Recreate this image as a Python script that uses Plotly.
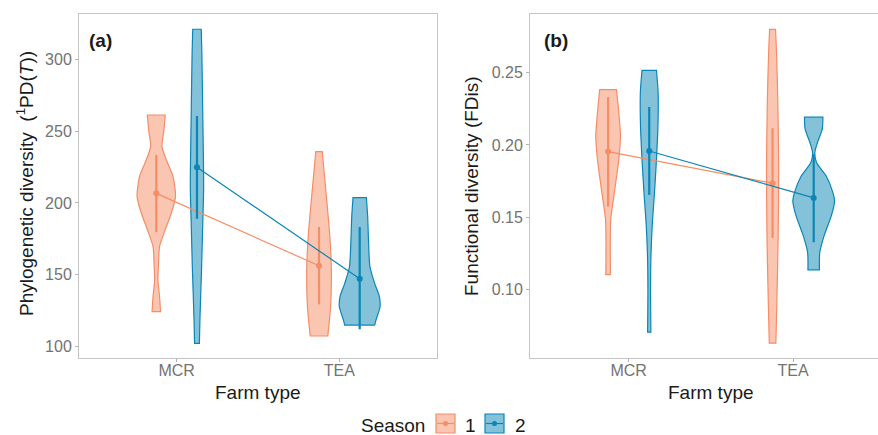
import plotly.graph_objects as go

# ---------------- data ----------------
farm_types = ["MCR", "TEA"]
seasons = ["1", "2"]
dodge = 0.125

# Panel (a): Phylogenetic diversity
pd_mean = {"1": [206.7, 156.3], "2": [224.8, 147.3]}
pd_lo = {"1": [179.7, 129.4], "2": [189.0, 112.1]}
pd_hi = {"1": [233.4, 183.3], "2": [260.5, 183.3]}

# violin outlines: y levels and half widths (x-axis units)
pd_viol_y = {
    ("1", "MCR"): [261.2, 250.8, 239.2, 229.9, 218.3, 204.4, 192.8, 181.2, 169.6, 158.0, 146.4, 134.8, 124.4],
    ("2", "MCR"): [320.9, 304.2, 257.7, 211.3, 188.2, 153.4, 118.5, 102.3],
    ("1", "TEA"): [235.7, 220.6, 197.4, 174.2, 151.0, 127.8, 107.4],
    ("2", "TEA"): [203.7, 190.4, 174.2, 155.6, 144.0, 134.8, 127.8, 118.5, 115.0],
}
pd_viol_w = {
    ("1", "MCR"): [0.055, 0.047, 0.035, 0.062, 0.103, 0.118, 0.092, 0.054, 0.020, 0.014, 0.010, 0.020, 0.026],
    ("2", "MCR"): [0.026, 0.030, 0.036, 0.041, 0.036, 0.028, 0.018, 0.015],
    ("1", "TEA"): [0.020, 0.032, 0.051, 0.068, 0.076, 0.071, 0.054],
    ("2", "TEA"): [0.041, 0.049, 0.054, 0.063, 0.092, 0.121, 0.125, 0.100, 0.092],
}

# Panel (b): Functional diversity
fd_mean = {"1": [0.1954, 0.1735], "2": [0.1958, 0.1633]}
fd_lo = {"1": [0.1573, 0.1356], "2": [0.1654, 0.1326]}
fd_hi = {"1": [0.2332, 0.2116], "2": [0.2263, 0.1936]}

fd_viol_y = {
    ("1", "MCR"): [0.2383, 0.2247, 0.2062, 0.1901, 0.1670, 0.1485, 0.1324, 0.1101],
    ("2", "MCR"): [0.2517, 0.2363, 0.2132, 0.1901, 0.1670, 0.1439, 0.1208, 0.0978, 0.0703],
    ("1", "TEA"): [0.2801, 0.2640, 0.2294, 0.1832, 0.1370, 0.0909, 0.0627],
    ("2", "TEA"): [0.2192, 0.2109, 0.2017, 0.1947, 0.1878, 0.1785, 0.1670, 0.1612, 0.1508, 0.1370, 0.1255, 0.1135],
}
fd_viol_w = {
    ("1", "MCR"): [0.051, 0.063, 0.075, 0.065, 0.038, 0.016, 0.013, 0.014],
    ("2", "MCR"): [0.044, 0.054, 0.053, 0.044, 0.032, 0.018, 0.010, 0.008, 0.010],
    ("1", "TEA"): [0.018, 0.024, 0.032, 0.037, 0.034, 0.026, 0.020],
    ("2", "TEA"): [0.056, 0.052, 0.023, 0.007, 0.017, 0.076, 0.117, 0.127, 0.107, 0.063, 0.037, 0.035],
}

pd_ticks = [100, 150, 200, 250, 300]
fd_ticks = [0.10, 0.15, 0.20, 0.25]

# ---------------- style ----------------
line_col = {"1": "#F58D66", "2": "#0A86B6"}
fill_col = {"1": "rgba(245,141,102,0.5)", "2": "rgba(10,134,182,0.5)"}
FONT = "Liberation Sans, Arial, sans-serif"

fig = go.Figure()


def add_panel(xref, yref, mean, lo, hi, vy, vw):
    for s in seasons:
        off = -dodge if s == "1" else dodge
        for i, ft in enumerate(farm_types):
            c = i + 1 + off
            ys = list(vy[(s, ft)])
            ws = list(vw[(s, ft)])
            # right side (top -> bottom), left side (bottom -> top); corners doubled to stay sharp
            right_x = [c + w for w in ws]
            left_x = [c - w for w in reversed(ws)]
            xs = [right_x[0]] + right_x + [right_x[-1]] + [left_x[0]] + left_x + [left_x[-1]] + [right_x[0], right_x[0]]
            yy = [ys[0]] + ys + [ys[-1]] + [ys[-1]] + list(reversed(ys)) + [ys[0]] + [ys[0], ys[0]]
            fig.add_trace(go.Scatter(
                x=xs, y=yy, xaxis=xref, yaxis=yref, mode="lines", fill="toself",
                fillcolor=fill_col[s],
                line=dict(color=line_col[s], width=1.2, shape="spline", smoothing=0.7),
                showlegend=False, hoverinfo="skip"))
    for s in seasons:
        off = -dodge if s == "1" else dodge
        xs = [i + 1 + off for i in range(len(farm_types))]
        m = mean[s]
        fig.add_trace(go.Scatter(
            x=xs, y=m, xaxis=xref, yaxis=yref, mode="lines+markers",
            line=dict(color=line_col[s], width=1.2),
            marker=dict(color=line_col[s], size=6),
            error_y=dict(type="data", symmetric=False,
                         array=[h - v for h, v in zip(hi[s], m)],
                         arrayminus=[v - l for l, v in zip(lo[s], m)],
                         color=line_col[s], thickness=2.2, width=0),
            showlegend=False))


add_panel("x", "y", pd_mean, pd_lo, pd_hi, pd_viol_y, pd_viol_w)
add_panel("x2", "y2", fd_mean, fd_lo, fd_hi, fd_viol_y, fd_viol_w)

W, H = 878, 435
ax_common = dict(showgrid=False, zeroline=False, ticks="outside", ticklen=3,
                 tickcolor="#B3B3B3", linecolor="#C4C4C4", linewidth=1, showline=True,
                 tickfont=dict(family=FONT, size=16, color="#737373"))

fig.update_layout(
    width=W, height=H, margin=dict(l=0, r=0, t=0, b=0),
    paper_bgcolor="white", plot_bgcolor="white", showlegend=False,
    font=dict(family=FONT),
    xaxis=dict(domain=[79 / W, 437 / W], range=[0.4, 2.6], tickvals=[1, 2],
               ticktext=farm_types, mirror=True, anchor="y", ticklabelstandoff=-5, **ax_common),
    yaxis=dict(domain=[1 - 358 / H, 1 - 14 / H], range=[92.1, 331.5], tickvals=pd_ticks,
               mirror=True, anchor="x", **ax_common),
    xaxis2=dict(domain=[530 / W, 1.0], range=[0.4, 2.516], tickvals=[1, 2],
                ticktext=farm_types, mirror=True, anchor="y2", ticklabelstandoff=-5, **ax_common),
    yaxis2=dict(domain=[1 - 358 / H, 1 - 14 / H], range=[0.0524, 0.2907], tickvals=fd_ticks,
                tickformat=".2f", mirror=False, anchor="x2", **ax_common),
)

title_font = dict(family=FONT, size=19, color="#1A1A1A")
ann = [
    dict(text="Farm type", x=258 / W, y=1 - 392 / H),
    dict(text="Farm type", x=711 / W, y=1 - 392 / H),
    dict(text="Phylogenetic diversity\u00a0\u00a0(<sup>1</sup>PD(<i>T</i>))", x=25 / W, y=1 - 184 / H, textangle=-90),
    dict(text="Functional diversity (FDis)", x=472 / W, y=1 - 186 / H, textangle=-90),
]
for a in ann:
    fig.add_annotation(xref="paper", yref="paper", showarrow=False, font=title_font,
                       xanchor="center", yanchor="middle", **a)

for lab, xp in [("(a)", 100), ("(b)", 556)]:
    fig.add_annotation(xref="paper", yref="paper", x=xp / W, y=1 - 40 / H, text=f"<b>{lab}</b>",
                       showarrow=False, font=dict(family=FONT, size=19, color="#1A1A1A"),
                       xanchor="center", yanchor="middle")

# legend (drawn manually to mimic ggplot key boxes)
LEG_Y = 425
fig.add_annotation(xref="paper", yref="paper", x=393 / W, y=1 - LEG_Y / H, text="Season",
                   showarrow=False, font=title_font, xanchor="center", yanchor="middle", height=18)
for s, x0, xt in [("1", 436, 470), ("2", 485, 520)]:
    y0, y1 = 414, 433
    ym = (y0 + y1) / 2
    fig.add_shape(type="rect", xref="paper", yref="paper", x0=x0 / W, x1=(x0 + 19) / W,
                  y0=1 - y1 / H, y1=1 - y0 / H, fillcolor=fill_col[s],
                  line=dict(color=line_col[s], width=1.2))
    fig.add_shape(type="line", xref="paper", yref="paper", x0=(x0 + 1) / W, x1=(x0 + 18) / W,
                  y0=1 - ym / H, y1=1 - ym / H, line=dict(color=line_col[s], width=1.2))
    fig.add_shape(type="circle", xref="paper", yref="paper", x0=(x0 + 7) / W, x1=(x0 + 12) / W,
                  y0=1 - (ym + 2.5) / H, y1=1 - (ym - 2.5) / H, fillcolor=line_col[s],
                  line=dict(color=line_col[s], width=0))
    fig.add_annotation(xref="paper", yref="paper", x=xt / W, y=1 - LEG_Y / H, text=s,
                       showarrow=False, font=title_font, xanchor="center", yanchor="middle", height=18)

fig.write_html("out.html", config={"displayModeBar": False},
               post_script="document.body.style.margin='0';document.body.style.overflow='hidden';")
